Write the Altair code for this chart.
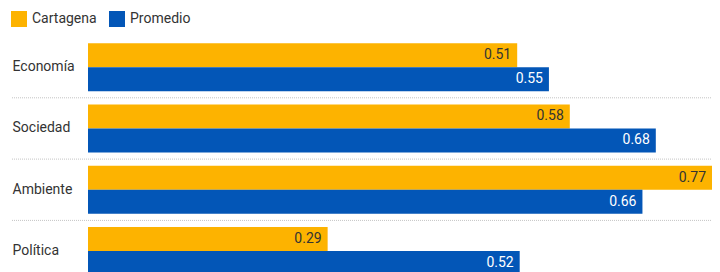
import altair as alt
import pandas as pd

categories = ["Economía", "Sociedad", "Ambiente", "Política"]
series = ["Cartagena", "Promedio"]
cartagena = [0.514, 0.577, 0.772, 0.287]
promedio = [0.552, 0.680, 0.664, 0.517]
colors = ["#FDB300", "#0356B7"]

rows = []
for c, a, b in zip(categories, cartagena, promedio):
    rows.append({"cat": c, "series": "Cartagena", "value": a})
    rows.append({"cat": c, "series": "Promedio", "value": b})
df = pd.DataFrame(rows)
sep_df = pd.DataFrame({"cat": categories[1:]})

W, H = 624, 235.5
STEP = 61.3
XMAX = 0.7473

yscale = alt.Scale(domain=categories, range=[0, STEP * 4], paddingInner=0, paddingOuter=0)
yaxis = alt.Axis(title=None, domain=False, ticks=False, tickSize=0, grid=False,
                 labelAlign="left", labelPadding=76, labelFontSize=14,
                 labelColor="#333333", labelFont="Roboto")
y = alt.Y("cat:N", scale=yscale, axis=yaxis, sort=categories)
yoff = alt.YOffset("series:N", sort=series,
                   scale=alt.Scale(domain=series, paddingInner=0, paddingOuter=0.277))
xscale = alt.Scale(domain=[0, XMAX], nice=False, zero=True)
x = alt.X("value:Q", scale=xscale, axis=None)

bars = alt.Chart(df).mark_bar(clip=True).encode(
    y=y, yOffset=yoff, x=x,
    color=alt.Color("series:N", sort=series,
                    scale=alt.Scale(domain=series, range=colors),
                    legend=alt.Legend(title=None, orient="none", direction="horizontal",
                                      legendX=-77, legendY=-25.5, padding=0,
                                      symbolType="square", symbolSize=256,
                                      symbolStrokeWidth=0, symbolOpacity=1,
                                      labelFontSize=14, labelColor="#333333",
                                      labelFont="Roboto", labelOffset=5,
                                      columnPadding=12)),
)

labels = alt.Chart(df).transform_calculate(
    lx=f"min(datum.value, {XMAX})"
).mark_text(clip=True, align="right", baseline="middle", dx=-6,
            fontSize=14, font="Roboto").encode(
    y=y, yOffset=yoff,
    x=alt.X("lx:Q", scale=xscale, axis=None),
    text=alt.Text("value:Q", format=".2f"),
    color=alt.condition(alt.datum.series == "Promedio", alt.value("#ffffff"), alt.value("#333333")),
)

seps = alt.Chart(sep_df).mark_rule(color="#c4c4c4", strokeWidth=1, strokeDash=[1, 1]).encode(
    y=alt.Y("cat:N", scale=yscale, axis=yaxis, sort=categories, bandPosition=0),
    x=alt.value(-76), x2=alt.value(W),
)

chart = alt.layer(seps, bars, labels).properties(
    width=W, height=H,
    autosize=alt.AutoSizeParams(type="none"),
    padding={"left": 80, "top": 28.5, "right": 0, "bottom": 0},
).configure_view(stroke=None)

chart.save("out.html", embed_options={"renderer": "svg", "actions": False})
